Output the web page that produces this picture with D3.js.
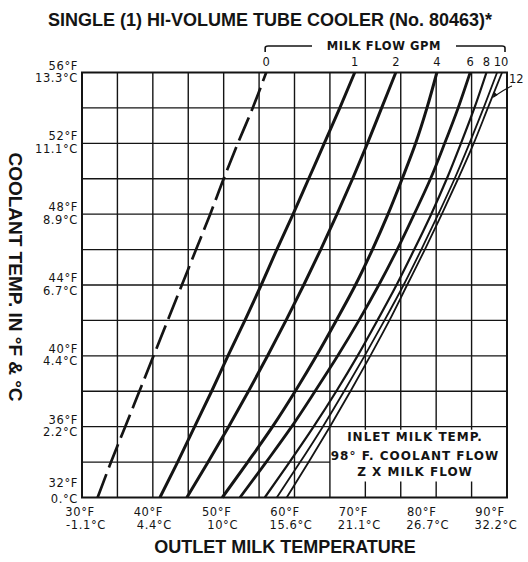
<!DOCTYPE html>
<html><head><meta charset="utf-8">
<script src="https://cdn.jsdelivr.net/npm/d3@7"></script>
<style>
html,body{margin:0;padding:0;background:#fff;}
svg{display:block;}
</style></head><body>
<svg id="chart" width="528" height="562"></svg>
<script>
// Coolant temperature (°F) at which each outlet temperature is read
const coolantF = [32, 34, 36, 38, 40, 42, 44, 46, 48, 50, 52, 54, 56];

// Outlet milk temperature (°F) for each milk flow (GPM)
const flow0  = [32.2, 34.1, 36.1, 38.1, 40.1, 42.1, 44.1, 46.1, 48.1, 50.0, 52.0, 54.1, 56.0];
const flow1  = [41.0, 43.5, 45.9, 48.3, 50.6, 53.0, 55.3, 57.5, 59.8, 62.0, 64.2, 66.4, 68.5];
const flow2  = [44.8, 47.8, 50.7, 53.5, 56.2, 58.8, 61.3, 63.7, 66.0, 68.2, 70.3, 72.3, 74.3];
const flow4  = [49.8, 53.4, 56.9, 60.1, 63.1, 65.9, 68.6, 71.0, 73.2, 75.2, 77.1, 78.7, 80.1];
const flow6  = [52.3, 56.0, 59.6, 62.9, 66.1, 69.1, 71.9, 74.5, 76.9, 79.2, 81.2, 83.1, 84.8];
const flow8  = [55.8, 59.3, 62.7, 65.9, 68.9, 71.7, 74.4, 76.9, 79.3, 81.5, 83.5, 85.4, 87.1];
const flow10 = [57.5, 60.8, 64.0, 67.0, 69.9, 72.7, 75.4, 77.9, 80.3, 82.6, 84.7, 86.7, 88.6];
const flow12 = [58.9, 62.0, 65.0, 67.9, 70.7, 73.4, 75.9, 78.4, 80.8, 83.1, 85.3, 87.3, 89.3];
const flowNames = ["0", "1", "2", "4", "6", "8", "10", "12"];

// Axis ticks and labels
const outletTicks = [30, 40, 50, 60, 70, 80, 90];
const outletLabelsF = ["30°F", "40°F", "50°F", "60°F", "70°F", "80°F", "90°F"];
const outletLabelsC = ["-1.1°C", "4.4°C", "10°C", "15.6°C", "21.1°C", "26.7°C", "32.2°C"];
const coolantTicks = [56, 52, 48, 44, 40, 36, 32];
const coolantLabelsF = ["56°F", "52°F", "48°F", "44°F", "40°F", "36°F", "32°F"];
const coolantLabelsC = ["13.3°C", "11.1°C", "8.9°C", "6.7°C", "4.4°C", "2.2°C", "0.°C"];

const noteLines = ["INLET MILK TEMP.", "98° F. COOLANT FLOW", "Z X MILK FLOW"];
const titleText = "SINGLE (1) HI-VOLUME TUBE COOLER (No. 80463)*";

const svg = d3.select("#chart");
const ink = "#141414";
const labelFont = "'DejaVu Sans', Verdana, sans-serif";
const headFont = "'Liberation Sans', Arial, sans-serif";

const x = d3.scaleLinear().domain([30, 90]).range([82, 507]);
const y = d3.scaleLinear().domain([32, 56]).range([497.5, 72.5]);

// Note panel occupies the lower-right cells
const panelX0 = 65, panelYTop = 36;

// Grid: vertical lines every 5 °F
const grid = svg.append("g").attr("stroke", ink).attr("stroke-width", 1.4).attr("fill", "none");
d3.range(35, 90, 5).forEach(t => {
  const inPanel = t > panelX0;
  grid.append("line").attr("x1", x(t)).attr("x2", x(t))
    .attr("y1", y(56)).attr("y2", inPanel ? y(panelYTop) + 3 : y(32));
  if (inPanel) {
    grid.append("line").attr("x1", x(t)).attr("x2", x(t))
      .attr("y1", y(32)).attr("y2", y(32) - 16);
  }
});
// Horizontal lines every 2 °F
d3.range(34, 56, 2).forEach(c => {
  grid.append("line").attr("x1", x(30))
    .attr("x2", c < panelYTop ? x(panelX0) : x(90))
    .attr("y1", y(c)).attr("y2", y(c));
});
// Frame
svg.append("rect").attr("x", x(30)).attr("y", y(56))
  .attr("width", x(90) - x(30)).attr("height", y(32) - y(56))
  .attr("fill", "none").attr("stroke", ink).attr("stroke-width", 2);

// Curves
const series = [flow0, flow1, flow2, flow4, flow6, flow8, flow10, flow12];
const widths = [2.7, 3, 3, 3, 2.8, 2.2, 1.8, 1.8];
const line = d3.line()
  .x(d => x(d.out)).y(d => y(d.c))
  .curve(d3.curveMonotoneY);
series.forEach((vals, i) => {
  const pts = vals.map((v, k) => ({ c: coolantF[k], out: v }));
  svg.append("path").datum(pts)
    .attr("d", line)
    .attr("fill", "none")
    .attr("stroke", ink)
    .attr("stroke-width", widths[i])
    .attr("stroke-linecap", "butt")
    .attr("stroke-dasharray", i === 0 ? "25,7" : null);
});

// Flow labels at the top end of each curve (12 GPM uses a leader)
const topRow = svg.append("g").attr("font-family", labelFont).attr("font-size", 11.5)
  .attr("fill", ink).attr("text-anchor", "middle");
series.slice(0, 7).forEach((vals, i) => {
  const name = flowNames[i];
  topRow.append("text")
    .attr("x", x(vals[vals.length - 1]) + (name.length - 1) * 4)
    .attr("y", 66).text(name);
});
// Label for 12 GPM with a curved leader pointing at its curve
const c12 = 54.6;
const k12 = coolantF.findIndex(c => c > c12);
const f12 = (c12 - coolantF[k12 - 1]) / (coolantF[k12] - coolantF[k12 - 1]);
const out12 = flow12[k12 - 1] + f12 * (flow12[k12] - flow12[k12 - 1]);
const tx = x(out12) + 1, ty = y(c12);
svg.append("text").attr("x", 509).attr("y", 83)
  .attr("font-family", labelFont).attr("font-size", 11.5).attr("fill", ink)
  .text(flowNames[7]);
svg.append("path")
  .attr("d", `M512,86 Q506,88 ${tx},${ty}`)
  .attr("fill", "none").attr("stroke", ink).attr("stroke-width", 1.2);
svg.append("path")
  .attr("d", `M${tx},${ty} l1,-5.5 l3.5,3.2 z`)
  .attr("fill", ink);

// Bracket with heading over the flow labels
const bx0 = x(flow0[flow0.length - 1]) - 1, bx1 = x(90) - 2, by = 46;
const bracket = svg.append("g").attr("stroke", ink).attr("stroke-width", 1.6).attr("fill", "none");
bracket.append("path").attr("d", `M${bx0},${by + 6} L${bx0},${by + 2} Q${bx0},${by} ${bx0 + 3},${by} L312,${by}`);
bracket.append("path").attr("d", `M456,${by} L${bx1 - 3},${by} Q${bx1},${by} ${bx1},${by + 2} L${bx1},${by + 6}`);
svg.append("text").attr("x", 384).attr("y", 49.5).attr("text-anchor", "middle")
  .attr("font-family", labelFont).attr("font-weight", "bold").attr("font-size", 11.5)
  .attr("letter-spacing", 0.6).attr("fill", ink).text("MILK FLOW GPM");

// Title
svg.append("text").attr("x", 270).attr("y", 26).attr("text-anchor", "middle")
  .attr("font-family", headFont)
  .attr("font-weight", "bold").attr("font-size", 18).attr("fill", ink)
  .text(titleText);

// Coolant temperature labels (left)
const yl = svg.append("g").attr("font-family", labelFont).attr("font-size", 11.5)
  .attr("fill", ink).attr("text-anchor", "end").attr("letter-spacing", 0.6);
coolantTicks.forEach((c, i) => {
  const bottom = c === 32;
  yl.append("text").attr("x", 78).attr("y", y(c) + (bottom ? -11 : -3)).text(coolantLabelsF[i]);
  yl.append("text").attr("x", 78).attr("y", y(c) + (bottom ? 5 : 9.5)).text(coolantLabelsC[i]);
});

// Outlet temperature labels (bottom)
const xl = svg.append("g").attr("font-family", labelFont).attr("font-size", 11.5)
  .attr("fill", ink).attr("text-anchor", "middle").attr("letter-spacing", 0.6);
outletTicks.forEach((t, i) => {
  const shift = -2 - (t - 30) * 0.25;
  xl.append("text").attr("x", x(t) + shift).attr("y", 516).text(outletLabelsF[i]);
  xl.append("text").attr("x", x(t) + shift + 6).attr("y", 529).text(outletLabelsC[i]);
});

// Axis titles
svg.append("text").attr("x", 285).attr("y", 553).attr("text-anchor", "middle")
  .attr("font-family", headFont).attr("font-weight", "bold").attr("font-size", 18)
  .attr("fill", ink).text("OUTLET MILK TEMPERATURE");
svg.append("text")
  .attr("transform", "translate(9,277) rotate(90)")
  .attr("text-anchor", "middle")
  .attr("font-family", headFont).attr("font-weight", "bold").attr("font-size", 19)
  .attr("fill", ink).text("COOLANT TEMP. IN °F & °C");

// Note inside the panel
const note = svg.append("g").attr("font-family", labelFont).attr("font-weight", "bold")
  .attr("font-size", 12).attr("fill", ink).attr("text-anchor", "middle").attr("letter-spacing", 1);
noteLines.forEach((s, i) => {
  note.append("text").attr("x", 415).attr("y", [441, 459.5, 476][i]).text(s);
});
</script>
</body></html>
